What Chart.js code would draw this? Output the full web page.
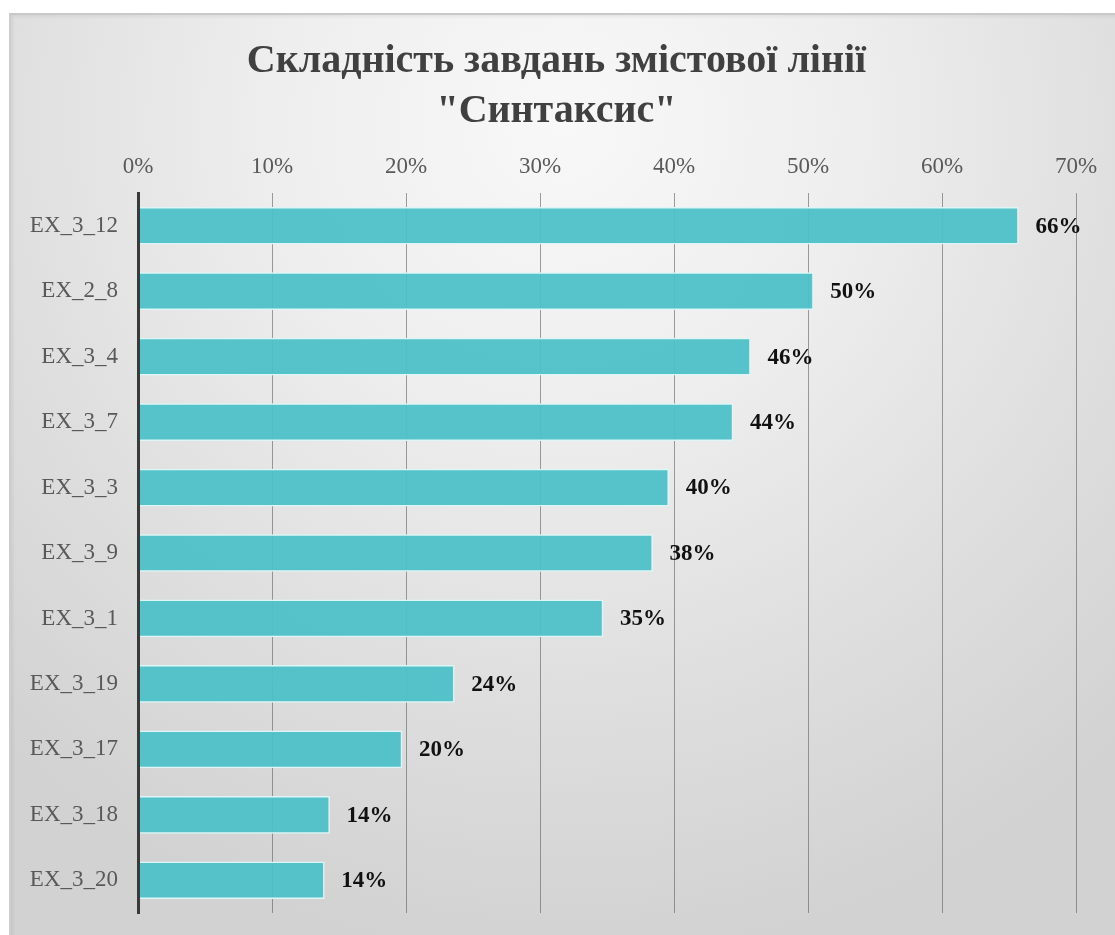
<!DOCTYPE html>
<html>
<head>
<meta charset="utf-8">
<script src="https://cdn.jsdelivr.net/npm/chart.js@4.4.1/dist/chart.umd.min.js"></script>
<style>
  html, body { margin: 0; padding: 0; background: #ffffff; }
  #wrap { position: relative; width: 1115px; height: 935px; overflow: hidden; background: #ffffff; }
  #frame {
    position: absolute; left: 9px; top: 13px; right: 0; bottom: 0;
    background: radial-gradient(ellipse 75% 90% at 50% 12%, #f8f8f8 0%, #eeeeee 35%, #dedede 70%, #d2d2d2 100%);
    border-left: 2px solid #cdcdcd; border-top: 2px solid #c9c9c9;
    box-shadow: inset 2px 2px 3px rgba(0,0,0,0.06);
  }
  #c { position: absolute; left: 0; top: 0; }
</style>
</head>
<body>
<div id="wrap">
  <div id="frame"></div>
  <canvas id="c" width="1115" height="935"></canvas>
</div>
<script>
const titleLines = ['Складність завдань змістової лінії', '"Синтаксис"'];
const categories = ['EX_3_12', 'EX_2_8', 'EX_3_4', 'EX_3_7', 'EX_3_3', 'EX_3_9', 'EX_3_1', 'EX_3_19', 'EX_3_17', 'EX_3_18', 'EX_3_20'];
const values = [65.7, 50.4, 45.7, 44.4, 39.6, 38.4, 34.7, 23.6, 19.7, 14.3, 13.9];
const xTickValues = [0, 10, 20, 30, 40, 50, 60, 70];

const SERIF = '"Liberation Serif", "Times New Roman", "DejaVu Serif", serif';

const valueLabels = {
  id: 'valueLabels',
  afterDatasetsDraw(chart) {
    const ctx = chart.ctx;
    const meta = chart.getDatasetMeta(0);
    ctx.save();
    ctx.font = 'bold 23px ' + SERIF;
    ctx.fillStyle = '#111111';
    ctx.textAlign = 'left';
    ctx.textBaseline = 'middle';
    meta.data.forEach((el, i) => {
      ctx.fillText(Math.round(values[i]) + '%', el.x + 17, el.y + 1);
    });
    ctx.restore();
  }
};

new Chart(document.getElementById('c'), {
  type: 'bar',
  data: {
    labels: categories,
    datasets: [{
      data: values,
      yAxisID: 'y',
      backgroundColor: 'rgba(76,192,200,0.94)',
      borderColor: '#dff6f6',
      borderWidth: 1.5,
      borderSkipped: false,
      barThickness: 37
    }]
  },
  options: {
    indexAxis: 'y',
    responsive: false,
    animation: false,
    devicePixelRatio: 1,
    layout: { padding: { left: 9, right: 11, top: 0, bottom: 22 } },
    plugins: {
      legend: { display: false },
      tooltip: { enabled: false },
      title: {
        display: true,
        text: titleLines,
        color: '#404040',
        font: { family: SERIF, size: 40, weight: 'bold', lineHeight: 1.25 },
        padding: { top: 37, bottom: 0 }
      }
    },
    scales: {
      x: {
        position: 'top',
        min: 0,
        max: 70,
        afterBuildTicks(scale) { scale.ticks = xTickValues.map(v => ({ value: v })); },
        afterFit(scale) { scale.height = 56; },
        ticks: {
          color: '#595959',
          font: { family: SERIF, size: 23 },
          padding: 12,
          callback: (v) => v + '%'
        },
        grid: { color: 'rgba(95,95,95,0.6)', lineWidth: 1, drawTicks: false },
        border: { display: false }
      },
      y: {
        afterFit(scale) { scale.width = 129; scale.paddingTop = 0; scale.paddingBottom = 0; },
        ticks: {
          color: '#595959',
          font: { family: SERIF, size: 23 },
          padding: 20
        },
        grid: { display: false, drawTicks: false },
        border: { display: true, color: '#3a3a3a', width: 3, z: 1 }
      },
      y2: {
        type: 'category',
        position: 'right',
        labels: categories,
        afterFit(scale) { scale.width = 28; scale.paddingTop = 0; scale.paddingBottom = 0; },
        ticks: { display: false },
        grid: { display: false, drawTicks: false },
        border: { display: false }
      }
    }
  },
  plugins: [valueLabels]
});
</script>
</body>
</html>
